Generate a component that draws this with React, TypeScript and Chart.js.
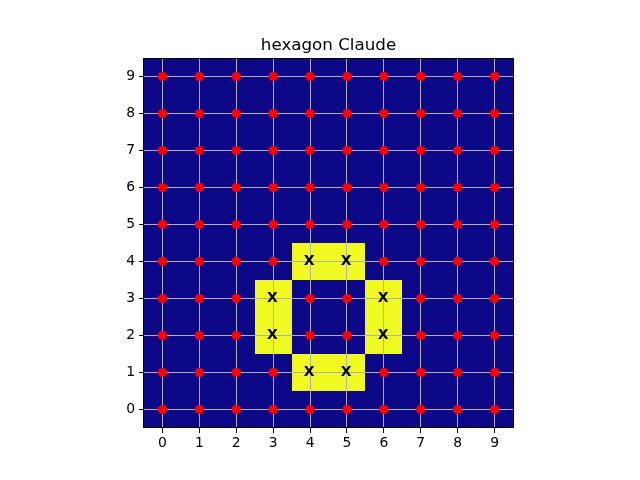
import React, { useEffect, useRef } from "react";
import { Chart, registerables } from "chart.js";

Chart.register(...registerables);

const chartTitle = "hexagon Claude";
const xTicks = [0, 1, 2, 3, 4, 5, 6, 7, 8, 9];
const yTicks = [0, 1, 2, 3, 4, 5, 6, 7, 8, 9];
// grid values, row index = y (0 at bottom), column index = x
const gridValues: number[][] = [
  [0, 0, 0, 0, 0, 0, 0, 0, 0, 0], // y=0
  [0, 0, 0, 0, 1, 1, 0, 0, 0, 0], // y=1
  [0, 0, 0, 1, 0, 0, 1, 0, 0, 0], // y=2
  [0, 0, 0, 1, 0, 0, 1, 0, 0, 0], // y=3
  [0, 0, 0, 0, 1, 1, 0, 0, 0, 0], // y=4
  [0, 0, 0, 0, 0, 0, 0, 0, 0, 0], // y=5
  [0, 0, 0, 0, 0, 0, 0, 0, 0, 0], // y=6
  [0, 0, 0, 0, 0, 0, 0, 0, 0, 0], // y=7
  [0, 0, 0, 0, 0, 0, 0, 0, 0, 0], // y=8
  [0, 0, 0, 0, 0, 0, 0, 0, 0, 0], // y=9
];
const markerLabel = "X";

const LOW = "#0d0887";
const HIGH = "#f0f921";

export default function App() {
  const ref = useRef<HTMLCanvasElement | null>(null);

  useEffect(() => {
    if (!ref.current) return;
    const dots: { x: number; y: number }[] = [];
    const marks: { x: number; y: number }[] = [];
    gridValues.forEach((row, y) =>
      row.forEach((v, x) => {
        if (v) marks.push({ x, y });
        else dots.push({ x, y });
      })
    );

    const cellPlugin = {
      id: "cells",
      beforeDraw(chart: any) {
        const { ctx, chartArea, scales } = chart;
        const xs = scales.x, ys = scales.y;
        ctx.save();
        ctx.fillStyle = LOW;
        ctx.fillRect(chartArea.left, chartArea.top, chartArea.right - chartArea.left, chartArea.bottom - chartArea.top);
        ctx.fillStyle = HIGH;
        gridValues.forEach((row, y) =>
          row.forEach((v, x) => {
            if (!v) return;
            const l = Math.round(xs.getPixelForValue(x - 0.5));
            const r = Math.round(xs.getPixelForValue(x + 0.5));
            const t = Math.round(ys.getPixelForValue(y + 0.5));
            const b = Math.round(ys.getPixelForValue(y - 0.5));
            ctx.fillRect(l, t, r - l, b - t);
          })
        );
        ctx.restore();
      },
      afterDraw(chart: any) {
        const { ctx, chartArea, scales } = chart;
        ctx.save();
        ctx.fillStyle = "#000";
        ctx.font = "bold 14px 'DejaVu Sans'";
        ctx.textAlign = "center";
        ctx.textBaseline = "middle";
        marks.forEach((m) => {
          ctx.fillText(markerLabel, scales.x.getPixelForValue(m.x) - 0.8, scales.y.getPixelForValue(m.y));
        });
        ctx.strokeStyle = "#000";
        ctx.lineWidth = 1;
        const x0 = Math.floor(chartArea.left) - 0.5;
        const y0 = Math.floor(chartArea.top) + 0.5;
        const x1 = Math.floor(chartArea.right) + 0.5;
        const y1 = Math.floor(chartArea.bottom) - 0.5;
        ctx.strokeRect(x0, y0, x1 - x0, y1 - y0);
        ctx.font = "16.7px 'DejaVu Sans'";
        ctx.textAlign = "center";
        ctx.textBaseline = "alphabetic";
        ctx.fillText(chartTitle, (chartArea.left + chartArea.right) / 2, chartArea.top - 8);
        ctx.restore();
      },
    };

    const tickFont = { family: "'DejaVu Sans'", size: 13.9 };

    const chart = new Chart(ref.current, {
      type: "scatter",
      data: {
        datasets: [
          {
            data: dots,
            backgroundColor: "#ff0000",
            borderWidth: 0,
            pointRadius: 4.6,
            pointHoverRadius: 4.6,
          },
        ],
      },
      options: {
        animation: false,
        responsive: false,
        devicePixelRatio: 1,
        events: [],
        layout: { padding: { left: 114, right: 127, top: 58, bottom: 22 } },
        plugins: { legend: { display: false }, tooltip: { enabled: false }, title: { display: false } },
        scales: {
          x: {
            type: "linear",
            min: -0.5,
            max: 9.5,
            afterBuildTicks: (s: any) => {
              s.ticks = xTicks.map((v) => ({ value: v }));
            },
            afterFit: (s: any) => {
              s.height = 30;
            },
            border: { display: false },
            grid: { color: "#b0b0b0", lineWidth: 1, tickColor: "#000", tickLength: 5, drawTicks: true },
            ticks: { color: "#000", font: tickFont, padding: 2, maxRotation: 0, autoSkip: false, callback: (v: any) => String(v) },
          },
          y: {
            type: "linear",
            min: -0.5,
            max: 9.5,
            afterBuildTicks: (s: any) => {
              s.ticks = yTicks.map((v) => ({ value: v }));
            },
            afterFit: (s: any) => {
              s.width = 30;
            },
            border: { display: false },
            grid: { color: "#b0b0b0", lineWidth: 1, tickColor: "#000", tickLength: 5, drawTicks: true },
            ticks: { color: "#000", font: tickFont, padding: 4, autoSkip: false, callback: (v: any) => String(v) },
          },
        },
      },
      plugins: [cellPlugin],
    } as any);
    return () => chart.destroy();
  }, []);

  return (
    <div style={{ position: "fixed", left: 0, top: 0, width: 640, height: 480, background: "#fff" }}>
      <canvas ref={ref} width={640} height={480} style={{ display: "block", width: 640, height: 480 }} />
    </div>
  );
}
